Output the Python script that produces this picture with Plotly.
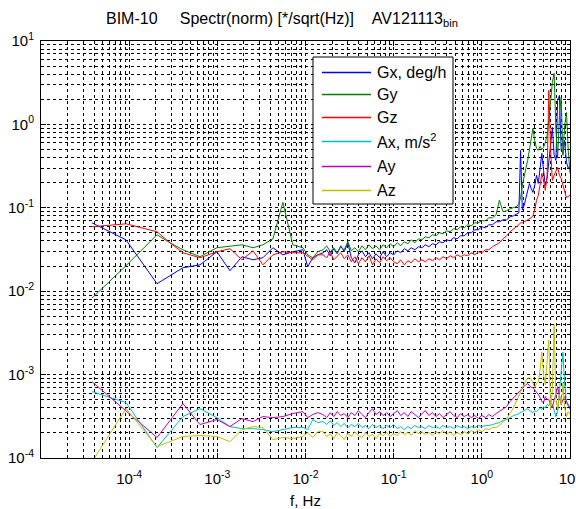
import plotly.graph_objects as go

# ---------------- data ----------------
freq_low = [3.78e-5, 9.2e-5, 2.07e-4, 2.9e-4, 4.07e-4, 6.35e-4, 9.89e-4, 1.39e-3, 1.9e-3,
            2.54e-3, 3.29e-3, 4.27e-3, 5.54e-3, 7.19e-3, 9.35e-3, 1.06e-2, 1.21e-2, 1.38e-2]
freq_high = [0.0158, 0.0174, 0.0191, 0.0209, 0.0229, 0.0251, 0.0275, 0.0302, 0.0331, 0.0363,
             0.0398, 0.0437, 0.0479, 0.0525, 0.0575, 0.0631, 0.0692, 0.0759, 0.0832, 0.0912,
             0.100, 0.110, 0.120, 0.132, 0.145, 0.158, 0.174, 0.191, 0.209, 0.229,
             0.251, 0.275, 0.302, 0.331, 0.363, 0.398, 0.437, 0.479, 0.525, 0.575,
             0.631, 0.692, 0.759, 0.832, 0.912, 1.00, 1.10, 1.20, 1.32, 1.45,
             1.58, 1.74, 1.91, 2.09, 2.29, 2.51,
             2.63, 2.75, 2.88, 3.02, 3.16, 3.31, 3.47, 3.63, 3.80, 3.98,
             4.17, 4.37, 4.57, 4.79, 5.01, 5.25, 5.50, 5.75, 6.03, 6.31,
             6.61, 6.92, 7.24, 7.59, 7.94, 8.32, 8.71, 9.12, 9.55, 10.0]

gx_low = [0.0661, 0.0413, 0.0123, 0.0153, 0.0191, 0.0207, 0.0297, 0.0176, 0.0259, 0.0238,
          0.0252, 0.0332, 0.0273, 0.0297, 0.0314, 0.0196, 0.0252, 0.0273]
gx_high = [0.0289, 0.0314, 0.0266, 0.0323, 0.0281, 0.0350, 0.0297, 0.0381, 0.0252, 0.0219,
           0.0273, 0.0305, 0.0259, 0.0289, 0.0245, 0.0281, 0.0252, 0.0297, 0.0259, 0.0289,
           0.0273, 0.0305, 0.0289, 0.0323, 0.0305, 0.0332, 0.0314, 0.0341, 0.0332, 0.0360,
           0.0341, 0.0370, 0.0360, 0.0391, 0.0381, 0.0413, 0.0402, 0.0437, 0.0425, 0.0462,
           0.0462, 0.0502, 0.0502, 0.0545, 0.0545, 0.0592, 0.0576, 0.0626, 0.0626, 0.0680,
           0.0680, 0.0718, 0.0718, 0.0780, 0.0802, 0.0847,
           0.0871, 0.488, 0.0946, 0.107, 0.133, 0.162, 0.196, 0.171, 0.153, 0.186,
           0.245, 0.196, 0.323, 0.449, 0.281, 0.186, 0.225, 0.370, 0.643, 0.921,
           0.425, 0.370, 1.94, 2.23, 0.488, 0.449, 0.643, 0.350, 0.297, 0.323]

gy_low = [0.00824, 0.0202, 0.0475, 0.0381, 0.0314, 0.0259, 0.0332, 0.0350, 0.0360, 0.0332,
          0.0360, 0.0425, 0.1162, 0.0360, 0.0332, 0.0273, 0.0252, 0.0297]
gy_high = [0.0314, 0.0350, 0.0297, 0.0332, 0.0289, 0.0341, 0.0314, 0.0391, 0.0305, 0.0332,
           0.0297, 0.0350, 0.0314, 0.0360, 0.0323, 0.0350, 0.0314, 0.0360, 0.0332, 0.0370,
           0.0341, 0.0381, 0.0350, 0.0391, 0.0370, 0.0413, 0.0381, 0.0425, 0.0413, 0.0449,
           0.0437, 0.0475, 0.0462, 0.0502, 0.0488, 0.0530, 0.0516, 0.0560, 0.0545, 0.0592,
           0.0576, 0.0626, 0.0608, 0.0661, 0.0661, 0.0699, 0.0699, 0.0759, 0.0759, 0.0824,
           0.123, 0.0896, 0.0921, 0.0973, 0.100, 0.104,
           0.113, 0.130, 0.186, 0.245, 0.297, 0.370, 0.488, 0.680, 0.896, 0.643,
           0.516, 0.488, 0.545, 0.502, 0.530, 0.608, 0.738, 1.12, 1.94, 3.19,
           4.09, 0.847, 0.402, 1.28, 2.11, 0.425, 0.973, 1.39, 0.488, 0.259]

gz_low = [0.0592, 0.0643, 0.0516, 0.0381, 0.0289, 0.0252, 0.0297, 0.0323, 0.0238, 0.0305,
          0.0207, 0.0273, 0.0297, 0.0289, 0.0289, 0.0266, 0.0238, 0.0273]
gz_high = [0.0273, 0.0252, 0.0297, 0.0238, 0.0266, 0.0289, 0.0245, 0.0273, 0.0225, 0.0259,
           0.0213, 0.0252, 0.0225, 0.0266, 0.0207, 0.0245, 0.0219, 0.0259, 0.0232, 0.0252,
           0.0225, 0.0213, 0.0238, 0.0207, 0.0232, 0.0219, 0.0245, 0.0225, 0.0238, 0.0225,
           0.0245, 0.0232, 0.0252, 0.0238, 0.0259, 0.0245, 0.0266, 0.0252, 0.0273, 0.0259,
           0.0273, 0.0266, 0.0289, 0.0273, 0.0297, 0.0289, 0.0314, 0.0314, 0.0341, 0.0360,
           0.0381, 0.0425, 0.0462, 0.0516, 0.0560, 0.0592,
           0.0626, 0.0661, 0.0661, 0.0680, 0.0699, 0.0718, 0.0738, 0.0759, 0.0802, 0.0946,
           0.123, 0.141, 0.186, 0.259, 0.213, 0.162, 0.245, 2.56, 0.488, 0.213,
           0.245, 0.281, 0.305, 0.245, 0.225, 0.186, 0.162, 0.133, 0.137, 0.141]

ax_low = [6.26e-4, 4.62e-4, 1.33e-4, 2.02e-4, 3.14e-4, 3.91e-4, 3.05e-4, 2.38e-4, 2.25e-4, 2.25e-4,
          2.19e-4, 2.07e-4, 2.19e-4, 2.32e-4, 2.32e-4, 2.19e-4, 2.89e-4, 2.66e-4]
ax_high = [2.73e-4, 2.52e-4, 2.81e-4, 2.45e-4, 2.66e-4, 2.38e-4, 2.59e-4, 2.32e-4, 2.52e-4, 2.38e-4,
           2.59e-4, 2.32e-4, 2.45e-4, 2.25e-4, 2.52e-4, 2.32e-4, 2.45e-4, 2.25e-4, 2.45e-4, 2.32e-4,
           2.52e-4, 2.25e-4, 2.38e-4, 2.19e-4, 2.38e-4, 2.25e-4, 2.45e-4, 2.32e-4, 2.38e-4, 2.25e-4,
           2.45e-4, 2.32e-4, 2.38e-4, 2.25e-4, 2.45e-4, 2.32e-4, 2.38e-4, 2.25e-4, 2.45e-4, 2.32e-4,
           2.38e-4, 2.25e-4, 2.38e-4, 2.32e-4, 2.45e-4, 2.38e-4, 2.45e-4, 2.45e-4, 2.52e-4, 2.59e-4,
           2.66e-4, 2.81e-4, 2.89e-4, 3.05e-4, 3.23e-4, 3.32e-4,
           3.41e-4, 3.50e-4, 3.60e-4, 3.70e-4, 3.81e-4, 3.91e-4, 3.70e-4, 3.60e-4, 3.50e-4, 3.70e-4,
           3.60e-4, 3.81e-4, 4.02e-4, 3.81e-4, 4.13e-4, 4.02e-4, 4.37e-4, 4.25e-4, 4.62e-4, 4.37e-4,
           3.81e-4, 3.14e-4, 3.60e-4, 5.76e-4, 1.07e-3, 1.86e-3, 7.59e-4, 4.62e-4, 4.13e-4, 3.81e-4]

ay_low = [8.24e-4, 3.70e-4, 1.76e-4, 2.81e-4, 4.49e-4, 2.52e-4, 2.89e-4, 2.38e-4, 2.97e-4, 2.73e-4,
          3.14e-4, 3.05e-4, 3.14e-4, 3.41e-4, 3.60e-4, 3.05e-4, 3.32e-4, 3.50e-4]
ay_high = [3.32e-4, 3.05e-4, 3.50e-4, 3.14e-4, 3.60e-4, 3.23e-4, 3.41e-4, 3.05e-4, 3.50e-4, 3.23e-4,
           3.70e-4, 3.32e-4, 3.05e-4, 3.50e-4, 3.91e-4, 3.32e-4, 3.60e-4, 3.23e-4, 3.50e-4, 3.14e-4,
           3.41e-4, 3.70e-4, 3.23e-4, 3.50e-4, 3.14e-4, 3.60e-4, 3.32e-4, 3.05e-4, 3.41e-4, 3.70e-4,
           3.23e-4, 3.50e-4, 3.14e-4, 3.41e-4, 3.05e-4, 3.32e-4, 3.60e-4, 3.23e-4, 3.05e-4, 3.41e-4,
           3.14e-4, 3.32e-4, 3.05e-4, 3.23e-4, 2.97e-4, 3.23e-4, 3.05e-4, 3.32e-4, 3.14e-4, 3.41e-4,
           3.60e-4, 3.81e-4, 4.13e-4, 4.75e-4, 5.30e-4, 5.76e-4,
           6.08e-4, 6.61e-4, 6.99e-4, 7.38e-4, 7.59e-4, 7.80e-4, 7.38e-4, 6.99e-4, 6.99e-4, 6.61e-4,
           6.08e-4, 5.76e-4, 5.30e-4, 4.75e-4, 4.62e-4, 5.45e-4, 5.02e-4, 5.02e-4, 4.37e-4, 4.02e-4,
           5.02e-4, 5.76e-4, 7.18e-4, 5.76e-4, 4.37e-4, 5.02e-4, 5.45e-4, 4.75e-4, 4.37e-4, 4.02e-4]

az_low = [8.96e-5, 3.91e-4, 1.37e-4, 1.57e-4, 1.81e-4, 1.86e-4, 1.81e-4, 1.57e-4, 2.19e-4, 2.38e-4,
          2.32e-4, 1.66e-4, 1.76e-4, 1.71e-4, 1.81e-4, 2.02e-4, 1.76e-4, 2.07e-4]
az_high = [2.07e-4, 1.81e-4, 1.96e-4, 1.71e-4, 2.02e-4, 1.86e-4, 1.66e-4, 1.96e-4, 1.81e-4, 2.07e-4,
           1.86e-4, 1.76e-4, 2.02e-4, 1.81e-4, 1.91e-4, 1.71e-4, 1.96e-4, 1.86e-4, 2.02e-4, 1.81e-4,
           1.96e-4, 1.86e-4, 2.07e-4, 1.91e-4, 2.02e-4, 1.86e-4, 2.13e-4, 1.96e-4, 2.07e-4, 1.91e-4,
           2.02e-4, 1.86e-4, 2.07e-4, 1.96e-4, 2.13e-4, 1.91e-4, 2.07e-4, 1.86e-4, 2.02e-4, 1.91e-4,
           2.07e-4, 1.96e-4, 2.13e-4, 2.02e-4, 2.19e-4, 2.07e-4, 2.25e-4, 2.19e-4, 2.32e-4, 2.32e-4,
           2.45e-4, 2.73e-4, 2.97e-4, 3.41e-4, 4.02e-4, 5.02e-4,
           5.60e-4, 6.26e-4, 6.99e-4, 7.80e-4, 8.47e-4, 8.96e-4, 9.21e-4, 8.71e-4, 7.59e-4, 6.99e-4,
           7.80e-4, 8.24e-4, 1.13e-3, 1.86e-3, 1.00e-3, 7.59e-4, 1.49e-3, 2.59e-3, 3.81e-4, 6.61e-4,
           3.91e-3, 5.02e-4, 3.81e-4, 5.76e-4, 4.37e-4, 8.02e-4, 4.02e-4, 3.14e-4, 3.60e-4, 3.32e-4]

series_names = ["Gx, deg/h", "Gy", "Gz", "Ax, m/s<sup>2</sup>", "Ay", "Az"]
series_colors = ["#0000ff", "#008000", "#ff0000", "#00bfbf", "#bf00bf", "#bfbf00"]
series_values = [gx_low + gx_high, gy_low + gy_high, gz_low + gz_high,
                 ax_low + ax_high, ay_low + ay_high, az_low + az_high]

x_tick_vals = [1e-4, 1e-3, 1e-2, 1e-1, 1, 10]
x_tick_text = ["10<sup>-4</sup>", "10<sup>-3</sup>", "10<sup>-2</sup>", "10<sup>-1</sup>",
               "10<sup>0</sup>", "10<sup>1</sup>"]
y_tick_vals = [1e-4, 1e-3, 1e-2, 1e-1, 1, 10]
y_tick_text = ["10<sup>-4</sup>", "10<sup>-3</sup>", "10<sup>-2</sup>", "10<sup>-1</sup>",
               "10<sup>0</sup>", "10<sup>1</sup>"]

# ---------------- figure ----------------
freq = freq_low + freq_high
fig = go.Figure()
for name, vals, col in zip(series_names, series_values, series_colors):
    fig.add_trace(go.Scatter(x=freq, y=vals, mode="lines", name=name,
                             line=dict(color=col, width=1), showlegend=False))

FONT = "Liberation Sans, Arial, sans-serif"
grid_dash = "3px,3px"
x_minor = [m * 10.0 ** e for e in range(-5, 1) for m in range(2, 10)]
y_minor = [m * 10.0 ** e for e in range(-4, 1) for m in range(2, 10)]

axis_common = dict(
    type="log", showline=True, linecolor="black", linewidth=1, mirror="allticks",
    ticks="inside", ticklen=5, tickcolor="black", tickmode="array",
    showgrid=True, gridcolor="black", gridwidth=1, griddash=grid_dash,
    zeroline=False, tickfont=dict(family=FONT, size=15, color="black"),
    ticklabeloverflow="allow", automargin=False,
)

fig.update_xaxes(
    range=[-5, 1], tickvals=x_tick_vals, ticktext=x_tick_text, ticklabelstandoff=7,
    minor=dict(tickmode="array", tickvals=x_minor, showgrid=True, gridcolor="black",
               gridwidth=1, griddash=grid_dash, ticks="inside", ticklen=3, tickcolor="black"),
    title=dict(text="f, Hz", font=dict(family=FONT, size=15, color="black"), standoff=9),
    **axis_common,
)
fig.update_yaxes(
    range=[-4, 1], tickvals=y_tick_vals, ticktext=y_tick_text, ticklabelstandoff=3,
    minor=dict(tickmode="array", tickvals=y_minor, showgrid=True, gridcolor="black",
               gridwidth=1, griddash=grid_dash, ticks="inside", ticklen=3, tickcolor="black"),
    **axis_common,
)

# legend drawn manually (MATLAB style box)
PX_L, PX_R, PX_T, PX_B = 41, 570, 41, 458
def px(x):
    return (x - PX_L) / (PX_R - PX_L)
def py(y):
    return (PX_B - y) / (PX_B - PX_T)

shapes = [dict(type="rect", xref="paper", yref="paper", x0=px(313), x1=px(453),
               y0=py(204), y1=py(57), line=dict(color="black", width=1),
               fillcolor="white", layer="above")]
annotations = []
legend_rows = [72.5, 94.5, 117.5, 141.5, 166.5, 190.5]
for name, col, yr in zip(series_names, series_colors, legend_rows):
    shapes.append(dict(type="line", xref="paper", yref="paper", x0=px(322), x1=px(371),
                       y0=py(yr), y1=py(yr), line=dict(color=col, width=1.3), layer="above"))
    annotations.append(dict(xref="paper", yref="paper", x=px(375), y=py(yr), text=name,
                            showarrow=False, xanchor="left", yanchor="middle",
                            font=dict(family=FONT, size=16, color="black")))

NB = "\u00a0"
title_text = ("BIM-10" + NB * 5 + "Spectr(norm) [*/sqrt(Hz)]" + NB * 4 + "AV121113<sub>bin</sub>")

fig.update_layout(
    width=576, height=509,
    margin=dict(l=41, r=6, t=41, b=51, autoexpand=False),
    paper_bgcolor="white", plot_bgcolor="white",
    title=dict(text=title_text, x=106 / 576, xanchor="left", xref="container",
               y=1 - 18 / 509, yanchor="middle",
               font=dict(family=FONT, size=16, color="black")),
    shapes=shapes, annotations=annotations,
    showlegend=False,
)

fig.write_html("out.html")
